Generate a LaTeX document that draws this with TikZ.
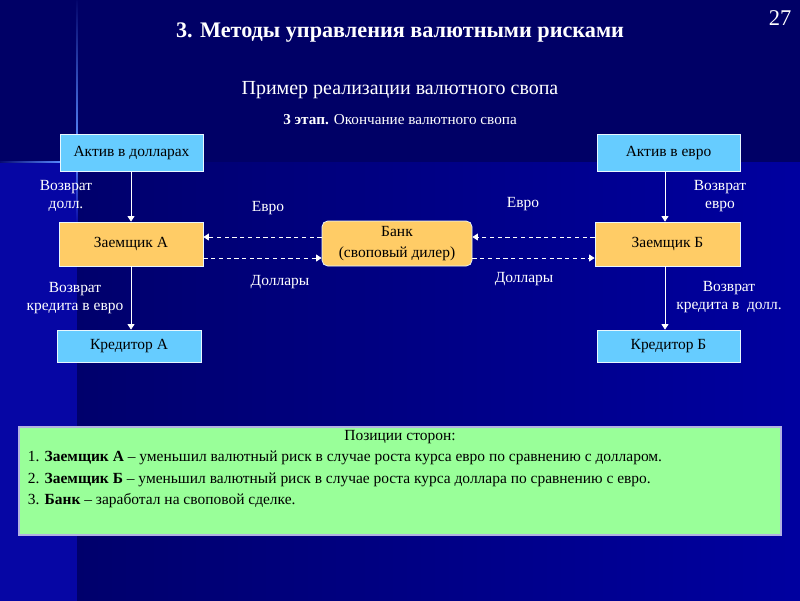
\documentclass[tikz,border=0pt]{standalone}
\usepackage{fontspec}
\setmainfont{Liberation Serif}
\usetikzlibrary{arrows.meta}

\definecolor{fonTop}{HTML}{000066}
\definecolor{fonDark}{HTML}{00006C}
\definecolor{fonLight}{HTML}{0000A0}
\definecolor{fonStrip}{HTML}{0606A4}
\definecolor{glow}{HTML}{5A8CFF}
\definecolor{aktiv}{HTML}{66CCFF}
\definecolor{zaem}{HTML}{FFCC66}
\definecolor{pozic}{HTML}{99FF99}

\tikzset{
  blok/.style={draw=white!85!aktiv, line width=0.5pt, inner sep=0pt, font=\fontsize{11}{12.5}\selectfont, text=black},
  sinij/.style={blok, fill=aktiv},
  oranzh/.style={blok, fill=zaem},
  podpis/.style={text=white, align=center, font=\fontsize{11}{13}\selectfont},
  strelka/.style={draw=white, line width=0.6pt, -{Triangle[width=5pt,length=4pt]}},
  punktir/.style={strelka, dashed, dash pattern=on 3pt off 2.5pt},
  stroka/.style={font=\fontsize{11}{12.5}\selectfont, anchor=west}
}

\begin{document}
\begin{tikzpicture}[x=0.025cm, y=-0.025cm]
    \useasboundingbox (0,0) rectangle (800,600);
    % Фон
    \fill[fonTop] (-5,-5) rectangle (805,605);
    \fill[fonStrip] (-5,162) rectangle (77,605);
    \shade[left color=fonDark, right color=fonLight] (77,162) rectangle (805,605);
    \shade[top color=fonTop, bottom color=glow] (76.4,-5) rectangle (77.6,150);
    \shade[top color=glow, bottom color=fonStrip] (76.4,150) rectangle (77.6,225);
    \shade[left color=fonTop, right color=glow] (-5,161.3) rectangle (62,162.7);

    % Заголовки
    \node[text=white, font=\fontsize{16}{18}\selectfont] (nomer) at (780,18) {27};
    \node[text=white, font=\bfseries\fontsize{15.8}{18}\selectfont] (zagolovok) at (400,33) {3. Методы управления валютными рисками};
    \node[text=white, font=\fontsize{14.2}{16}\selectfont] (primer) at (400,90) {Пример реализации валютного свопа};
    \node[text=white, font=\fontsize{10.8}{12}\selectfont] (etap) at (400,120) {\textbf{3 этап.} Окончание валютного свопа};

    % Участники
    \node[sinij, minimum height=37*0.025cm, minimum width=143*0.025cm] (aktivA) at (131.5,153) {Актив в долларах};
    \node[sinij, minimum height=37*0.025cm, minimum width=143*0.025cm] (aktivB) at (668.5,153) {Актив в евро};
    \node[oranzh, minimum height=44*0.025cm, minimum width=144*0.025cm] (zaemA) at (131,244) {Заемщик А};
    \node[oranzh, minimum height=44*0.025cm, minimum width=145*0.025cm] (zaemB) at (667.5,244) {Заемщик Б};
    \node[oranzh, rounded corners=4pt, align=center, font=\fontsize{11}{15}\selectfont, minimum height=45*0.025cm, minimum width=150*0.025cm] (bank) at (397,243.5) {Банк\\(своповый дилер)};
    \node[sinij, minimum height=32*0.025cm, minimum width=144*0.025cm] (kreditA) at (129,346) {Кредитор А};
    \node[sinij, minimum height=32*0.025cm, minimum width=143*0.025cm] (kreditB) at (668.5,346) {Кредитор Б};

    % Возврат кредитов
    \draw[strelka] (aktivA.south -| 131,0) -- (zaemA.north -| 131,0);
    \draw[strelka] (zaemA.south -| 131,0) -- (kreditA.north -| 131,0);
    \draw[strelka] (aktivB.south -| 665,0) -- (zaemB.north -| 665,0);
    \draw[strelka] (zaemB.south -| 665,0) -- (kreditB.north -| 665,0);
    \node[podpis] (vozvrA) at (66,196) {Возврат\\долл.};
    \node[podpis] (vozvrKA) at (75,298) {Возврат\\кредита в евро};
    \node[podpis] (vozvrB) at (720,196) {Возврат\\евро};
    \node[podpis] (vozvrKB) at (729,297) {Возврат\\кредита в\ \ долл.};

    % Обмен валют
    \draw[punktir] (bank.west |- 0,237) -- (zaemA.east |- 0,237);
    \draw[punktir] (zaemA.east |- 0,258) -- (bank.west |- 0,258);
    \draw[punktir] (zaemB.west |- 0,237) -- (bank.east |- 0,237);
    \draw[punktir] (bank.east |- 0,258) -- (zaemB.west |- 0,258);
    \node[podpis] (evroA) at (268,208) {Евро};
    \node[podpis] (dollA) at (280,282) {Доллары};
    \node[podpis] (evroB) at (523,204) {Евро};
    \node[podpis] (dollB) at (524,279) {Доллары};

    % Позиции сторон
    \node[draw=white!70!fonLight, fill=pozic, line width=0.8pt, minimum width=762*0.025cm, minimum height=108*0.025cm, inner sep=0pt] (pozicii) at (400,481) {};
    \node[font=\fontsize{11}{12.5}\selectfont] (pozZag) at (400,437) {Позиции сторон:};
    \node[stroka] (poz1) at (23,458) {1. \textbf{Заемщик А} – уменьшил валютный риск в случае роста курса евро по сравнению с долларом.};
    \node[stroka] (poz2) at (23,480) {2. \textbf{Заемщик Б} – уменьшил валютный риск в случае роста курса доллара по сравнению с евро.};
    \node[stroka] (poz3) at (23,501) {3. \textbf{Банк} – заработал на своповой сделке.};
\end{tikzpicture}
\end{document}
